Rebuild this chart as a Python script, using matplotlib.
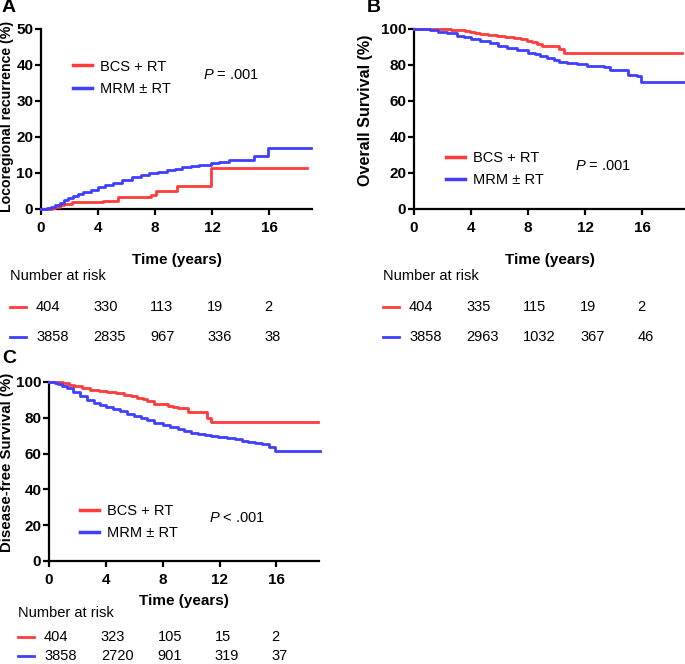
import matplotlib
matplotlib.use('Agg')
import matplotlib.pyplot as plt
from matplotlib.transforms import blended_transform_factory, offset_copy

plt.rcParams['font.family'] = ['Liberation Sans', 'DejaVu Sans']
plt.rcParams['mathtext.fontset'] = 'custom'
plt.rcParams['mathtext.it'] = 'Liberation Sans:italic'
plt.rcParams['mathtext.rm'] = 'Liberation Sans'

RED = '#FF3B3B'
BLUE = '#3F3FFF'

# ---- data ----
risk_times = [0, 4, 8, 12, 16]

# A: locoregional recurrence (%)
a_red_t = [0, 0.8, 1.0, 1.3, 1.6, 2.2, 4.35, 5.4, 7.7, 8.05, 9.5, 11.95, 18.65]
a_red_v = [0, 0.3, 0.6, 1.0, 1.5, 2.0, 2.3, 3.3, 4.0, 5.0, 6.5, 11.3, 11.3]
a_blue_t = [0, 0.4, 0.7, 1.0, 1.3, 1.6, 1.9, 2.25, 2.6, 2.95, 3.5, 4.0, 4.5, 5.05, 5.7, 6.4,
            7.0, 7.6, 8.2, 8.8, 9.4, 9.9, 10.5, 11.1, 11.9, 12.5, 13.2, 14.5, 14.95, 15.9, 18.9]
a_blue_v = [0, 0.2, 0.5, 1.0, 1.7, 2.5, 3.0, 3.6, 4.2, 4.7, 5.4, 6.0, 6.6, 7.3, 8.0, 8.8,
            9.4, 10.0, 10.4, 10.8, 11.2, 11.6, 12.0, 12.3, 12.8, 13.1, 13.5, 13.5, 14.7, 16.9, 16.9]
a_risk_red = [404, 330, 113, 19, 2]
a_risk_blue = [3858, 2835, 967, 336, 38]

# B: overall survival (%)
b_red_t = [0, 1.8, 2.6, 3.1, 3.6, 3.9, 4.3, 4.6, 5.2, 5.8, 6.4, 7.0, 7.5, 7.9, 8.3, 8.6,
           9.0, 10.2, 10.5, 18.8]
b_red_v = [100, 99.8, 99.6, 99.4, 99.0, 98.5, 97.8, 97.0, 96.5, 96.0, 95.5, 95.0, 94.2, 93.5,
           92.5, 91.5, 90.3, 89.0, 86.5, 86.5]
b_blue_t = [0, 0.6, 1.1, 1.7, 2.3, 3.0, 3.5, 4.0, 4.6, 5.3, 5.9, 6.5, 7.2, 8.0, 8.5, 8.85,
            9.3, 9.8, 10.2, 10.7, 11.4, 12.1, 12.8, 13.3, 13.75, 14.7, 15.0, 15.4, 15.6, 15.9, 18.9]
b_blue_v = [100, 99.8, 99.4, 98.6, 97.5, 96.0, 95.3, 94.6, 93.4, 92.0, 90.8, 89.6, 88.2, 86.8,
            86.0, 85.0, 83.8, 82.5, 81.7, 81.0, 80.3, 79.6, 79.2, 78.7, 77.0, 77.0, 74.6, 74.6,
            74.0, 70.8, 70.8]
b_risk_red = [404, 335, 115, 19, 2]
b_risk_blue = [3858, 2963, 1032, 367, 46]

# C: disease-free survival (%)
c_red_t = [0, 0.7, 1.0, 1.4, 1.73, 2.3, 2.9, 3.5, 4.1, 4.7, 5.3, 5.8, 6.2, 6.6, 6.9, 7.4,
           7.9, 8.35, 8.7, 9.1, 9.8, 10.95, 11.1, 11.4, 18.9]
c_red_v = [100, 99.8, 99.5, 98.6, 97.5, 96.5, 95.5, 95.0, 94.3, 93.8, 93.0, 92.0, 91.0, 90.3,
           89.5, 87.8, 87.5, 86.7, 86.0, 85.5, 83.5, 83.0, 80.0, 77.4, 77.4]
c_blue_t = [0, 0.4, 0.66, 0.95, 1.25, 1.7, 2.2, 2.7, 3.15, 3.6, 4.0, 4.5, 5.0, 5.5, 6.0, 6.5,
            6.9, 7.4, 8.0, 8.5, 9.05, 9.5, 10.0, 10.5, 10.95, 11.4, 11.9, 12.5, 13.1, 13.6,
            14.0, 14.5, 15.0, 15.45, 15.9, 19.1]
c_blue_v = [100, 99.6, 99.0, 97.8, 96.5, 94.3, 92.0, 90.2, 88.5, 87.3, 86.3, 85.0, 83.6, 82.3,
            81.0, 79.7, 78.5, 77.3, 75.8, 75.0, 74.0, 72.8, 71.7, 71.0, 70.3, 69.7, 69.0, 68.5,
            68.0, 67.3, 66.5, 66.0, 65.5, 63.5, 61.5, 61.5]
c_risk_red = [404, 323, 105, 15, 2]
c_risk_blue = [3858, 2720, 901, 319, 37]

W, H = 685, 664
fig = plt.figure(figsize=(W / 100, H / 100), dpi=100)


def px(x, y):
    # pixel (from top-left) -> figure fraction
    return x / W, 1 - y / H


def panel(rect, letter, letter_xy, red, blue, ymax, ystep, ylabel, ylab_size, ylab_xy,
          xlabpad, leg_xy, p_text, p_xy, risk_red, risk_blue, table_y):
    l, t, r, b = rect
    ax = fig.add_axes([l / W, 1 - b / H, (r - l) / W, (b - t) / H])
    ax.step(red[0], red[1], where='post', color=RED, lw=2, clip_on=False, zorder=3)
    ax.step(blue[0], blue[1], where='post', color=BLUE, lw=2, clip_on=False, zorder=3)
    ax.set_xlim(0, 19)
    ax.set_ylim(0, ymax)
    ax.set_xticks(risk_times)
    ax.set_yticks(range(0, ymax + 1, ystep))
    for s in ['top', 'right']:
        ax.spines[s].set_visible(False)
    for s in ['left', 'bottom']:
        ax.spines[s].set_linewidth(1.6)
    ax.tick_params(length=4, width=1.6, labelsize=11)
    ax.tick_params(axis='x', pad=4.5)
    ax.tick_params(axis='y', pad=1.5)
    for lab in ax.get_xticklabels() + ax.get_yticklabels():
        lab.set_fontweight('bold')
    ax.set_xlabel('Time (years)', fontsize=11, fontweight='bold', labelpad=xlabpad)
    ax.set_ylabel(ylabel, fontsize=ylab_size, fontweight='bold')
    ax.yaxis.set_label_coords(*ylab_xy)

    ax.plot([], [], color=RED, lw=2.5, label='BCS + RT')
    ax.plot([], [], color=BLUE, lw=2.5, label='MRM ± RT')
    ax.legend(loc='center left', bbox_to_anchor=leg_xy, frameon=False,
              fontsize=10.5, borderpad=0, borderaxespad=0, handlelength=1.3,
              handletextpad=0.55, labelspacing=0.55)
    ax.text(p_xy[0], p_xy[1], p_text, transform=ax.transAxes, fontsize=10.5, va='center')

    fig.text(*px(*letter_xy), letter, fontsize=14, fontweight='bold', ha='center', va='center')

    # number at risk table
    y0, y1, y2 = table_y
    fig.text(*px(l - 31, y0), 'Number at risk', fontsize=10.5, va='center')
    tr = blended_transform_factory(ax.transData, fig.transFigure)
    tr = offset_copy(tr, fig=fig, x=-5, units='dots')
    tra = blended_transform_factory(ax.transAxes, fig.transFigure)
    for yy, vals, col in [(y1, risk_red, RED), (y2, risk_blue, BLUE)]:
        yf = 1 - yy / H
        ax.plot([-31 / (r - l), -15 / (r - l)], [yf, yf], color=col, lw=2,
                transform=tra, clip_on=False)
        for tt, n in zip(risk_times, vals):
            ax.text(tt, yf, str(n), transform=tr, fontsize=10.5, ha='left', va='center')
    return ax


panel((41, 29, 312, 209), 'A', (9, 8), (a_red_t, a_red_v), (a_blue_t, a_blue_v), 50, 10,
      'Locoregional recurrence (%)', 10.2, (-0.1, 0.517), 13.3,
      (0.118, 0.73), r'$\mathit{P}$ = .001', (0.598, 0.744),
      a_risk_red, a_risk_blue, (276, 307, 337))
panel((414, 29, 685, 209), 'B', (374, 8), (b_red_t, b_red_v), (b_blue_t, b_blue_v), 100, 20,
      'Overall Survival (%)', 11.6, (-0.151, 0.55), 13.3,
      (0.118, 0.22), r'$\mathit{P}$ = .001', (0.594, 0.239),
      b_risk_red, b_risk_blue, (276, 307, 337))
panel((49, 382, 319, 561), 'C', (9, 359), (c_red_t, c_red_v), (c_blue_t, c_blue_v), 100, 20,
      'Disease-free Survival (%)', 10.8, (-0.13, 0.553), 5.5,
      (0.115, 0.22), r'$\mathit{P}$ < .001', (0.593, 0.24),
      c_risk_red, c_risk_blue, (613, 637, 656))

fig.savefig('out.png', dpi=100)
